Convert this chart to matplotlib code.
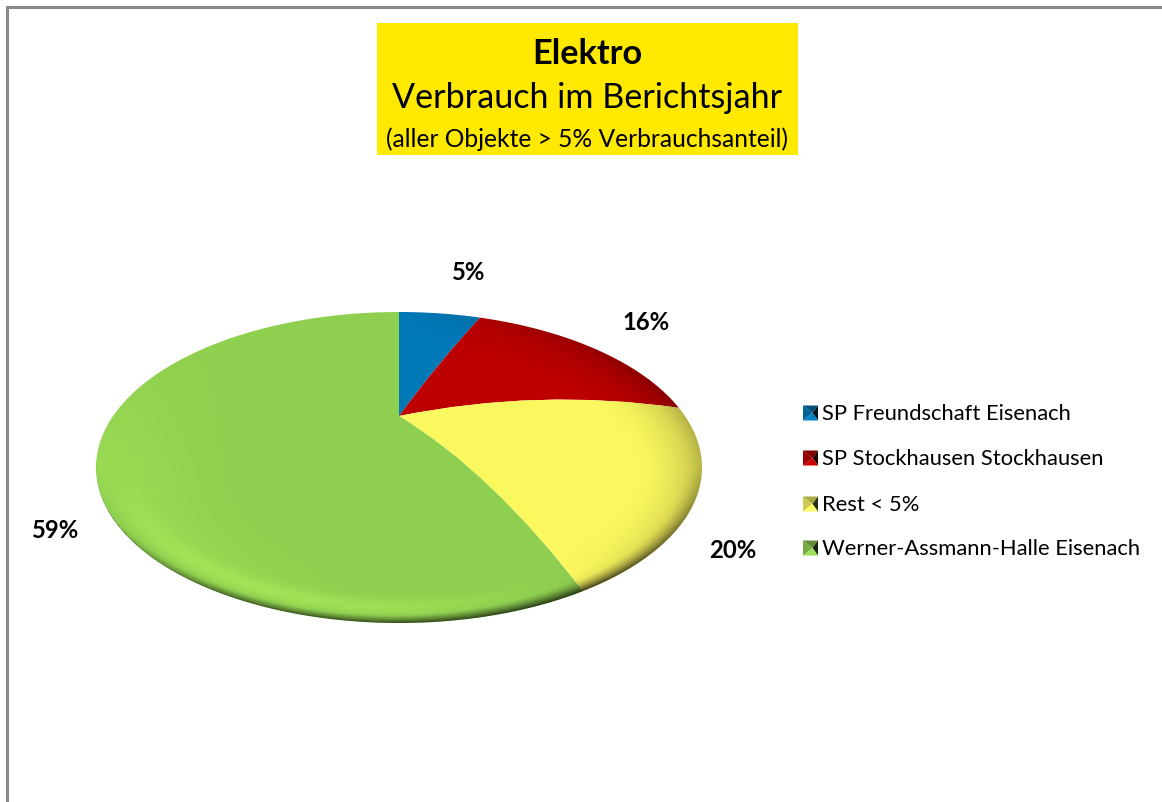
import numpy as np
import matplotlib
matplotlib.use('Agg')
import matplotlib.pyplot as plt
from matplotlib.patches import Ellipse, PathPatch, Polygon, Rectangle
from matplotlib.path import Path

#chart data
categories = ['SP Freundschaft Eisenach', 'SP Stockhausen Stockhausen', 'Rest < 5%', 'Werner-Assmann-Halle Eisenach']
shares = [5, 16, 20, 59]
share_labels = ['5%', '16%', '20%', '59%']

#styles and positions, all in pixels of the 1162x802 picture
colors = ['#0079B8', '#BC0000', '#FBF85F', '#8FCF50']
label_pos = [(468, 272), (646, 322), (733, 551), (55, 530)]
key_y = [413, 458, 504, 548]
edge_bulge = [3, 12, 16, 0]
cx, cy = 399, 467.5
rx, ry = 303, 155.5
apex = (399, 416)

plt.rcParams['font.family'] = ['Lato', 'DejaVu Sans']

fig = plt.figure(figsize=(11.62, 8.02), dpi=100)
ax = fig.add_axes([0, 0, 1, 1])
ax.set_xlim(0, 1162)
ax.set_ylim(802, 0)
ax.axis('off')

#frame, only top and left are in view
ax.plot([6.5, 6.5, 1162], [802, 7, 7], color='#8a8a8a', lw=2.2, solid_joinstyle='miter')

#title box
ax.add_patch(Rectangle((377, 23), 421, 132, fc='#FFE900', ec='none'))
ax.text(587, 54, 'Elektro', ha='center', va='center', fontsize=24.7, fontweight='bold')
ax.text(587, 98, 'Verbrauch im Berichtsjahr', ha='center', va='center', fontsize=24.6)
ax.text(587, 139, '(aller Objekte > 5% Verbrauchsanteil)', ha='center', va='center', fontsize=17.7)


#perspective squeeze of the share angle onto the rim of the ellipse
def rim_angle(theta):
    return 2 * np.arctan2(0.86 * np.sin(theta / 2), np.cos(theta / 2))


def rim_point(theta):
    t = rim_angle(theta)
    return cx + rx * np.sin(t), cy - ry * np.cos(t)


cum = np.cumsum([0] + shares) / sum(shares) * 2 * np.pi
for i in range(len(shares)):
    arc = np.linspace(cum[i], cum[i + 1], 120)
    xs, ys = rim_point(arc)

    #edges of the slices curve a bit upward, like on a dome
    start_ctrl = ((apex[0] + xs[0]) / 2, (apex[1] + ys[0]) / 2 - 2 * (edge_bulge[i - 1] if i > 0 else 0))
    end_ctrl = ((apex[0] + xs[-1]) / 2, (apex[1] + ys[-1]) / 2 - 2 * edge_bulge[i])

    verts = [apex, start_ctrl, (xs[0], ys[0])]
    codes = [Path.MOVETO, Path.CURVE3, Path.CURVE3]
    verts += list(zip(xs[1:], ys[1:]))
    codes += [Path.LINETO] * (len(xs) - 1)
    verts += [end_ctrl, apex]
    codes += [Path.CURVE3, Path.CURVE3]
    ax.add_patch(PathPatch(Path(verts, codes), fc=colors[i], ec='none', lw=0))

#bevel shading on top of the slices, clipped to the pie
gx, gy = np.meshgrid(np.arange(cx - rx - 2, cx + rx + 3), np.arange(cy - ry - 2, cy + ry + 3))
nx = (gx - cx) / rx
ny = (gy - cy) / ry
r = np.sqrt(nx ** 2 + ny ** 2)
low = np.clip(ny / (r + 1e-6), 0, 1)
right = np.clip(nx / (r + 1e-6), 0, 1)
left = np.clip(-nx / (r + 1e-6), 0, 1)
up = np.clip(-ny / (r + 1e-6), 0, 1)

shade = np.zeros_like(r)
#dark lower rim
shade -= 0.6 * np.clip((r - 0.93) / 0.07, 0, 1) ** 1.6 * np.clip(low * 1.2 + 0.1 * right, 0, 1)
#soft dark band to the right and upper right
shade -= 0.22 * np.clip((r - 0.75) / 0.25, 0, 1) ** 2 * right
shade -= 0.1 * np.clip((r - 0.7) / 0.3, 0, 1) ** 2 * right * up
#light band on the lower left, gone at the top
band = np.exp(-((r - 0.9) / 0.05) ** 2)
shade += 0.32 * band * np.clip(low * 1.2, 0, 1) * (1 - right) ** 2
shade += 0.22 * np.clip((r - 0.5) / 0.45, 0, 1) * left * (1 - up) * (r < 1)

rgba = np.zeros(r.shape + (4,))
#highlights are yellow-green so the green does not wash out
rgba[shade > 0, :3] = matplotlib.colors.to_rgb('#C0FF60')
rgba[..., 3] = np.clip(np.abs(shade), 0, 1)
rim = Ellipse((cx, cy), 2 * rx, 2 * ry, fc='none', ec='none', transform=ax.transData)
ax.add_patch(rim)
im = ax.imshow(rgba, extent=(cx - rx - 2.5, cx + rx + 2.5, cy + ry + 2.5, cy - ry - 2.5),
               interpolation='bilinear', aspect='auto', zorder=3)
im.set_clip_path(rim)
ax.set_xlim(0, 1162)
ax.set_ylim(802, 0)

#percent labels
for lab, (lx, ly) in zip(share_labels, label_pos):
    ax.text(lx, ly, lab, ha='center', va='center', fontsize=17.2, fontweight='bold')

#legend, each key is a small pyramid of four triangles
for name, col, y in zip(categories, colors, key_y):
    base = np.array(matplotlib.colors.to_rgb(col))
    x0, x1 = 803, 818
    y0, y1 = y - 7.5, y + 7.5
    mid = (x0 + 9.5, y)
    sides = [([(x0, y0), (x1, y0), mid], 0.68),
             ([(x0, y0), (x0, y1), mid], 0.82),
             ([(x1, y0), (x1, y1), mid], 0.18),
             ([(x0, y1), (x1, y1), mid], 1.08)]
    for pts, f in sides:
        ax.add_patch(Polygon(pts, fc=np.clip(base * f, 0, 1), ec='none'))
    ax.text(822, y + 1, name, ha='left', va='center', fontsize=15.8)

fig.savefig('out.png', dpi=100)
